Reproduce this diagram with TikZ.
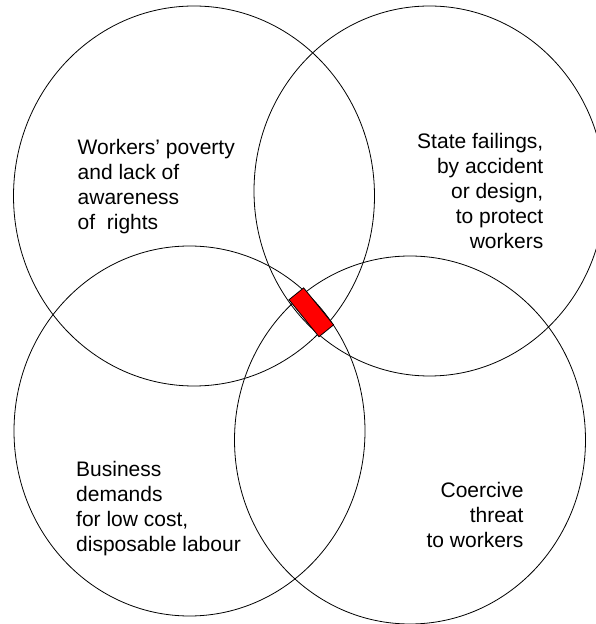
\documentclass[tikz,border=0pt]{standalone}
\usepackage{fontspec}
\setmainfont{Liberation Sans}
\usetikzlibrary{shapes.geometric}
\colorlet{myred}{red}

\begin{document}
\begin{tikzpicture}[x=1pt,y=1pt]
\useasboundingbox (0,0) rectangle (595,624);
\tikzset{SetStyle/.style ={shape=ellipse, draw, line width=0.8pt, inner sep=0},
         NoteStyle/.style ={inner sep=0, font=\fontsize{21}{25}\selectfont}}
\node[SetStyle, minimum width=361pt, minimum height=380pt] (poverty) at (194,428) {};
\node[SetStyle, minimum width=351pt, minimum height=370pt] (state) at (429.5,433) {};
\node[SetStyle, minimum width=351pt, minimum height=370pt] (business) at (189.5,193) {};
\node[SetStyle, minimum width=351pt, minimum height=368pt] (threat) at (410,184) {};
\node[draw, line width=0.8pt, fill=myred, minimum width=47.6pt, minimum height=18.8pt,
      inner sep=0, rotate=-51] (core) at (311.3,311.7) {};
\node[NoteStyle, align=left, anchor=base west] (note1) at (77.5,394)
  {Workers’ poverty\\and lack of\\awareness\\of\ \ rights};
\node[NoteStyle, align=right, anchor=base east] (note2) at (543.5,375.3)
  {State failings,\\by accident\\or design,\\to protect\hspace*{.278em}\\workers};
\node[NoteStyle, align=left, anchor=base west] (note3) at (76,72)
  {Business\\demands\\for low cost,\\disposable labour};
\node[NoteStyle, align=right, anchor=base east] (note4) at (523.7,76)
  {Coercive\\threat\hspace*{.278em}\\to workers};
\end{tikzpicture}
\end{document}
